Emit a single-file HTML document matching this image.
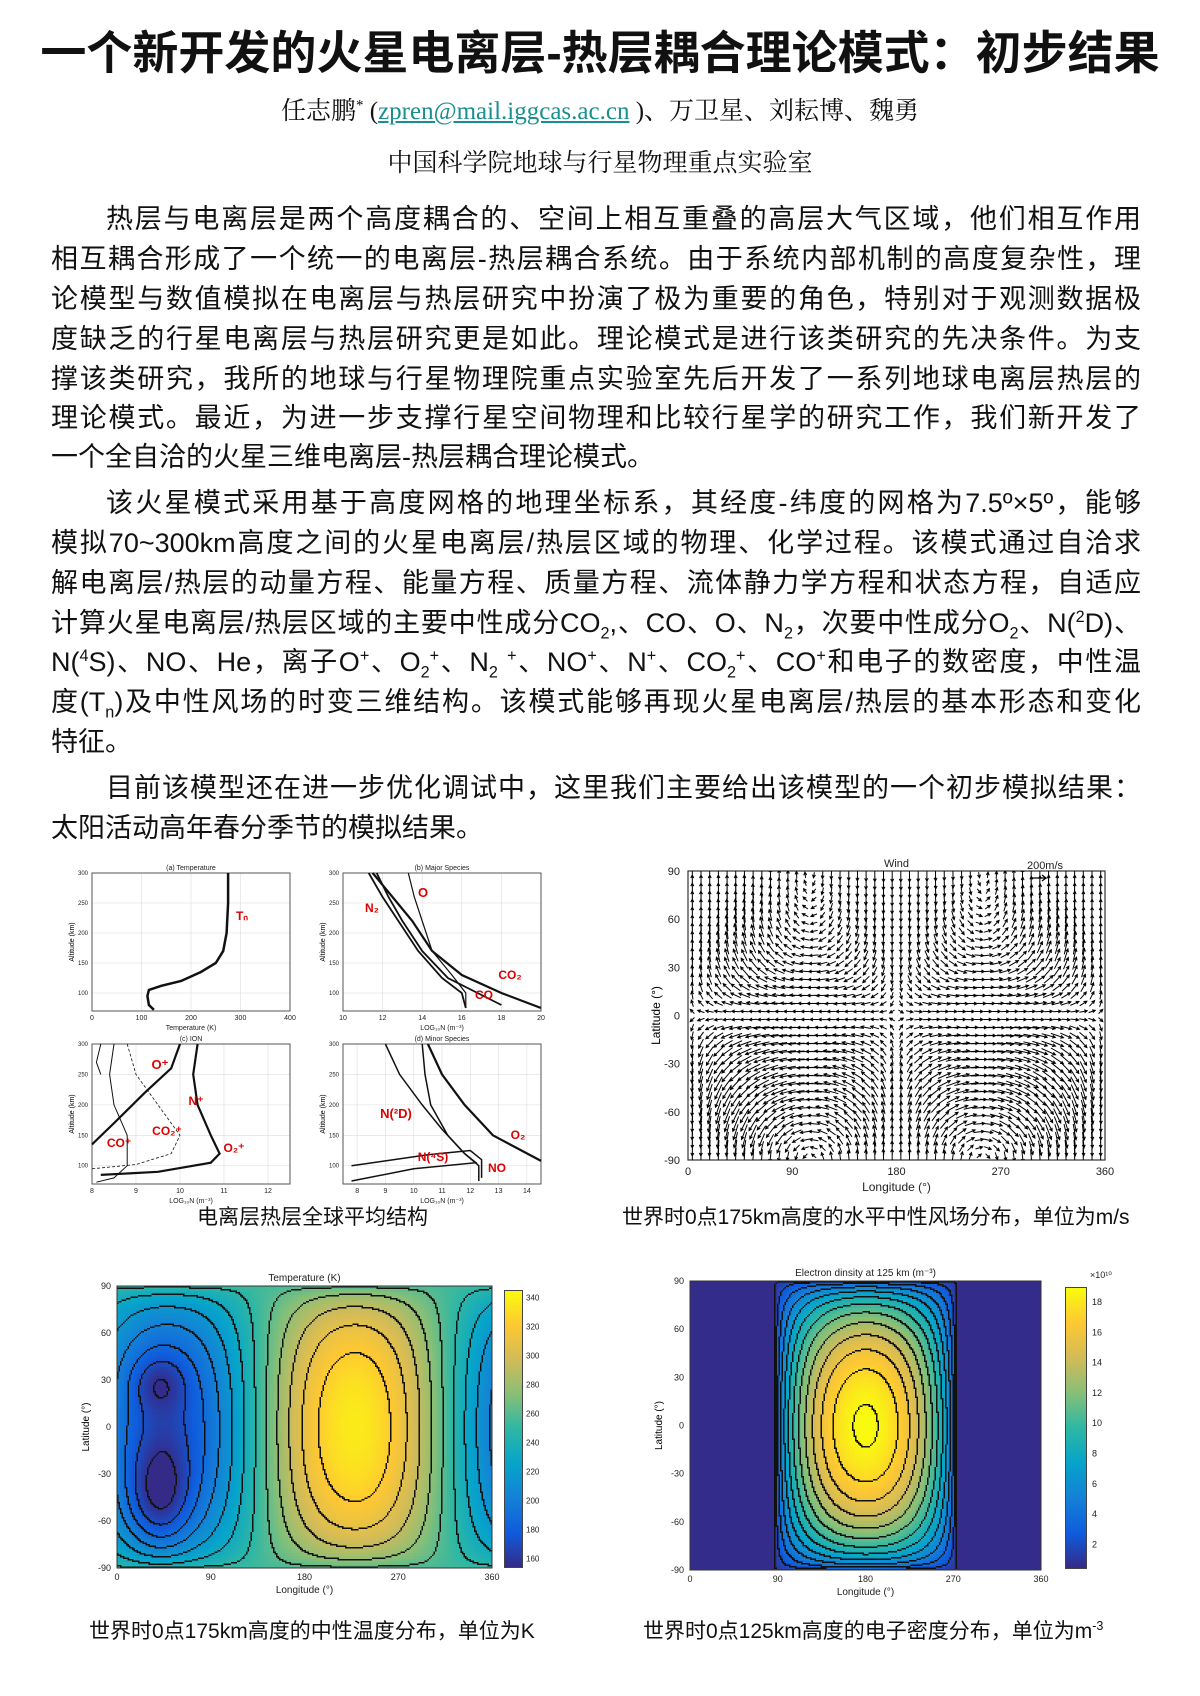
<!DOCTYPE html>
<html><head><meta charset="utf-8">
<style>
html,body{margin:0;padding:0;background:#fff;}
body{width:1200px;height:1696px;position:relative;overflow:hidden;font-family:"Liberation Serif","Noto Sans CJK SC",serif;color:#111;}
.t{position:absolute;white-space:nowrap;}
.title{left:0;width:1200px;top:24px;text-align:center;font-family:"Liberation Sans","Noto Sans CJK SC",sans-serif;font-weight:bold;font-size:46px;line-height:58px;}
.auth{left:0;width:1200px;top:96px;text-align:center;font-family:"Liberation Serif","Noto Serif CJK SC",serif;font-size:25px;line-height:32px;}
.auth a{color:#1a8f8f;text-decoration:underline;}
.aff{left:0;width:1200px;top:148px;text-align:center;font-family:"Liberation Serif","Noto Serif CJK SC",serif;font-size:25px;line-height:32px;}
.ln{position:absolute;left:51px;width:1090px;font-family:"Liberation Sans","Noto Sans CJK SC",sans-serif;font-size:27px;line-height:34px;height:34px;text-align:justify;text-align-last:justify;white-space:nowrap;}
.ln.i{left:106px;width:1035px;}
.ln.e{text-align-last:left;}
sub,sup{font-size:60%;line-height:0;}
.cap{position:absolute;font-family:"Liberation Sans","Noto Sans CJK SC",sans-serif;font-size:21px;line-height:26px;white-space:nowrap;}
svg{position:absolute;left:0;top:0;}
.cb{position:absolute;border:1px solid #444;background:linear-gradient(to top,#352a87,#0f5cdd 12.5%,#1481d6 25%,#06a4ca 37.5%,#2eb7a4 50%,#87bf77 62.5%,#d1bb59 75%,#fec832 87.5%,#f9fb0e);}
</style></head><body>
<div class="t title">一个新开发的火星电离层-热层耦合理论模式：初步结果</div>
<div class="t auth">任志鹏<sup>*</sup> (<a>zpren@mail.iggcas.ac.cn</a> )、万卫星、刘耘博、魏勇</div>
<div class="t aff">中国科学院地球与行星物理重点实验室</div>

<div class="ln i" style="top:202px">热层与电离层是两个高度耦合的、空间上相互重叠的高层大气区域，他们相互作用</div>
<div class="ln" style="top:242px">相互耦合形成了一个统一的电离层-热层耦合系统。由于系统内部机制的高度复杂性，理</div>
<div class="ln" style="top:282px">论模型与数值模拟在电离层与热层研究中扮演了极为重要的角色，特别对于观测数据极</div>
<div class="ln" style="top:322px">度缺乏的行星电离层与热层研究更是如此。理论模式是进行该类研究的先决条件。为支</div>
<div class="ln" style="top:362px">撑该类研究，我所的地球与行星物理院重点实验室先后开发了一系列地球电离层热层的</div>
<div class="ln" style="top:401px">理论模式。最近，为进一步支撑行星空间物理和比较行星学的研究工作，我们新开发了</div>
<div class="ln e" style="top:440px">一个全自洽的火星三维电离层-热层耦合理论模式。</div>

<div class="ln i" style="top:486px">该火星模式采用基于高度网格的地理坐标系，其经度-纬度的网格为7.5º×5º，能够</div>
<div class="ln" style="top:526px">模拟70~300km高度之间的火星电离层/热层区域的物理、化学过程。该模式通过自洽求</div>
<div class="ln" style="top:566px">解电离层/热层的动量方程、能量方程、质量方程、流体静力学方程和状态方程，自适应</div>
<div class="ln" style="top:606px">计算火星电离层/热层区域的主要中性成分CO<sub>2</sub>,、CO、O、N<sub>2</sub>，次要中性成分O<sub>2</sub>、N(<sup>2</sup>D)、</div>
<div class="ln" style="top:645px">N(<sup>4</sup>S)、NO、He，离子O<sup>+</sup>、O<sub>2</sub><sup>+</sup>、N<sub>2</sub> <sup>+</sup>、NO<sup>+</sup>、N<sup>+</sup>、CO<sub>2</sub><sup>+</sup>、CO<sup>+</sup>和电子的数密度，中性温</div>
<div class="ln" style="top:685px">度(T<sub>n</sub>)及中性风场的时变三维结构。该模式能够再现火星电离层/热层的基本形态和变化</div>
<div class="ln e" style="top:725px">特征。</div>

<div class="ln i" style="top:771px">目前该模型还在进一步优化调试中，这里我们主要给出该模型的一个初步模拟结果：</div>
<div class="ln e" style="top:811px">太阳活动高年春分季节的模拟结果。</div>

<div class="cap" style="left:197px;top:1205px">电离层热层全球平均结构</div>
<div class="cap" style="left:622px;top:1205px">世界时0点175km高度的水平中性风场分布，单位为m/s</div>
<div class="cap" style="left:89px;top:1619px">世界时0点175km高度的中性温度分布，单位为K</div>
<div class="cap" style="left:643px;top:1619px">世界时0点125km高度的电子密度分布，单位为m<sup>-3</sup></div>

<div class="cb" style="left:504px;top:1290px;width:17px;height:276px"></div>
<div class="cb" style="left:1065px;top:1287px;width:20px;height:280px"></div>

<svg id="sv" width="1200" height="1696" xmlns="http://www.w3.org/2000/svg" font-family="Liberation Sans, sans-serif"></svg>

<script>
var NS="http://www.w3.org/2000/svg";var sv=document.getElementById('sv');
function el(n,a,txt){var e=document.createElementNS(NS,n);for(var k in a)e.setAttribute(k,a[k]);if(txt!==undefined)e.textContent=txt;sv.appendChild(e);return e;}
function tx(x,y,s,fs,anchor,fill,weight){return el('text',{x:x,y:y,'font-size':fs,'text-anchor':anchor||'middle',fill:fill||'#222','font-weight':weight||'normal'},s);}
var P=[[53,42,135],[15,92,221],[20,129,214],[6,164,202],[46,183,164],[135,191,119],[209,187,89],[254,200,50],[249,251,14]];
function par(t){t=Math.max(0,Math.min(1,t));var f=t*8,i=Math.min(7,Math.floor(f)),u=f-i;var c=[];for(var k=0;k<3;k++)c.push(Math.round(P[i][k]+(P[i+1][k]-P[i][k])*u));return 'rgb('+c.join(',')+')';}
var r=Math.PI/180;
function g(x,a,b,y,c,d){return Math.exp(-Math.pow((x-a)/b,2)-Math.pow((y-c)/d,2));}
function drawMap(X0,Y0,W,H,fn,lo,hi,step,off){
 var s='';var cs=3;
 for(var y=0;y<H;y+=cs)for(var x=0;x<W;x+=cs){var lon=(x+1.5)/W*360,lat=90-(y+1.5)/H*180;
  var w=Math.min(cs,W-x),h=Math.min(cs,H-y);
  s+='<rect x="'+(X0+x)+'" y="'+(Y0+y)+'" width="'+(w+0.4)+'" height="'+(h+0.4)+'" fill="'+par((fn(lon,lat)-lo)/(hi-lo))+'"/>';}
 var fs=1.5,nx=Math.floor(W/fs),ny=Math.floor(H/fs),L=[];
 for(var j=0;j<=ny;j++){L.push([]);for(var i=0;i<=nx;i++){L[j].push(Math.floor((fn(i*fs/W*360,90-j*fs/H*180)+off)/step));}}
 var d='';
 for(var j=0;j<ny;j++)for(var i=0;i<nx;i++){var v=L[j][i];if(L[j][i+1]!==v||L[j+1][i]!==v){d+='M'+(X0+i*fs).toFixed(1)+' '+(Y0+j*fs).toFixed(1)+'h1.5v1.5h-1.5z';}}
 s+='<path d="'+d+'" fill="#111"/>';
 var gg=document.createElementNS(NS,'g');gg.innerHTML=s;sv.appendChild(gg);
}
try{drawMap(117,1286,375,282,function(lon,lat){var f=Math.pow(Math.max(0,1-Math.pow(lat/90,2)),0.6);var t=255+82*Math.cos((lon-228)*r)*f;t-=35*g(lon,40,30,lat,-45,35)+22*g(lon,40,25,lat,28,18);return t;},155,345,15,7.5);}catch(e){}
try{drawMap(690,1281,351,289,function(lon,lat){var d=lon-180;var A=Math.pow(Math.max(0,Math.cos(d*r*0.97)),0.6);var B=Math.pow(Math.max(0,Math.cos(lat*r)),0.5);return 0.6+18.4*A*B;},0.5,19,1.5,0.75);}catch(e){}

function mapAxes(x0,y0,w,h,title){
 el('rect',{x:x0,y:y0,width:w,height:h,fill:'none',stroke:'#333','stroke-width':1});
 tx(x0+w/2,y0-5,title,10);
 [90,60,30,0,-30,-60,-90].forEach(function(v,i){var y=y0+i*h/6;tx(x0-6,y+3,String(v),9,'end');});
 [0,90,180,270,360].forEach(function(v,i){var x=x0+i*w/4;tx(x,y0+h+12,String(v),9);});
 tx(x0+w/2,y0+h+25,'Longitude (°)',10);
 el('text',{x:x0-28,y:y0+h/2,'font-size':10,'text-anchor':'middle',transform:'rotate(-90 '+(x0-28)+' '+(y0+h/2)+')'},'Latitude (°)');
}
try{
mapAxes(117,1286,375,282,'Temperature  (K)');
mapAxes(690,1281,351,289,'Electron dinsity at 125 km  (m⁻³)');
for(var i=0;i<10;i++){tx(526,1566-(160+20*i-155)/190*276+3,String(160+20*i),8,'start');}
for(var i=1;i<=9;i++){tx(1092,1567-(2*i-0.5)/18.5*280+3,String(2*i),9,'start');}
tx(1090,1278,'×10¹⁰',9,'start');
}catch(e){}

try{
var wx=688,wy=871,ww=417,wh=289;
el('rect',{x:wx,y:wy,width:ww,height:wh,fill:'none',stroke:'#333','stroke-width':1.2});
tx(wx+ww/2,wy-4,'Wind',11);tx(1045,wy-2,'200m/s',11);
el('path',{d:'M1032 878h14l-4-3M1046 878l-4 3',stroke:'#000','stroke-width':1.2,fill:'none'});
[90,60,30,0,-30,-60,-90].forEach(function(v,i){tx(wx-8,wy+i*wh/6+4,String(v),11,'end');});
[0,90,180,270,360].forEach(function(v,i){tx(wx+i*ww/4,wy+wh+15,String(v),11);});
tx(wx+ww/2,wy+wh+31,'Longitude (°)',12);
el('text',{x:wx-28,y:wy+wh/2,'font-size':12,'text-anchor':'middle',transform:'rotate(-90 '+(wx-28)+' '+(wy+wh/2)+')'},'Latitude (°)');
var d='';
for(var lon=3.75;lon<360;lon+=7.5){for(var lat=-87.5;lat<=87.5;lat+=5){
 var x=wx+lon/360*ww,y=wy+wh-(lat+90)/180*wh;
 var u=-13*Math.sin(lon*r)*Math.cos(lat*r)-5*Math.sin((lon-180)*r)*Math.sin(2*lat*r);
 var v=15*Math.sin(lat*r)*Math.cos(lon*r)+4*Math.sin(lat*r);
 var L=Math.sqrt(u*u+v*v);if(L<0.3)continue;
 var nl=Math.min(16,5+L*0.8);
 if(Math.abs(lat)<6)nl=Math.min(nl,8);
 u=u/L*nl;v=v/L*nl;
 var x1=x-u/2,y1=y+v/2,x2=x+u/2,y2=y-v/2;
 d+='M'+x1.toFixed(1)+' '+y1.toFixed(1)+'L'+x2.toFixed(1)+' '+y2.toFixed(1);
 var ux=u/nl,uy=-v/nl,hs=3;
 d+='M'+(x2-hs*ux-hs*0.5*uy).toFixed(1)+' '+(y2-hs*uy+hs*0.5*ux).toFixed(1)+'L'+x2.toFixed(1)+' '+y2.toFixed(1)+'L'+(x2-hs*ux+hs*0.5*uy).toFixed(1)+' '+(y2-hs*uy-hs*0.5*ux).toFixed(1);
}}
el('clipPath',{id:'wc'}).innerHTML='<rect x="'+wx+'" y="'+wy+'" width="'+ww+'" height="'+wh+'"/>';
el('path',{d:d,stroke:'#000','stroke-width':1,fill:'none','clip-path':'url(#wc)'});
}catch(e){}

function panel(x0,y0,w,h,xt,xlo,xhi,title,xlab){
 for(var i=0;i<xt.length;i++){var x=x0+(xt[i]-xlo)/(xhi-xlo)*w;el('line',{x1:x,y1:y0,x2:x,y2:y0+h,stroke:'#ddd','stroke-width':0.6});tx(x,y0+h+9,String(xt[i]),7);}
 [100,150,200,250,300].forEach(function(a){var y=y0+h-(a-70)/230*h;el('line',{x1:x0,y1:y,x2:x0+w,y2:y,stroke:'#ddd','stroke-width':0.6});tx(x0-4,y+2,String(a),6,'end');});
 el('rect',{x:x0,y:y0,width:w,height:h,fill:'none',stroke:'#555','stroke-width':1});
 tx(x0+w/2,y0-3,title,7);tx(x0+w/2,y0+h+19,xlab,7);
 el('text',{x:x0-18,y:y0+h/2,'font-size':7,'text-anchor':'middle',transform:'rotate(-90 '+(x0-18)+' '+(y0+h/2)+')'},'Altitude (km)');
 return function(pts,sw,dash){el('polyline',{points:pts.map(function(p){return (x0+(p[0]-xlo)/(xhi-xlo)*w).toFixed(1)+','+(y0+h-(p[1]-70)/230*h).toFixed(1);}).join(' '),fill:'none',stroke:'#111','stroke-width':sw||1.5,'stroke-dasharray':dash||'none'});};
}
try{
var pa=panel(92,873,198,138,[0,100,200,300,400],0,400,'(a) Temperature','Temperature (K)');
pa([[125,72],[115,80],[112,95],[115,105],[140,112],[180,120],[220,135],[250,150],[265,170],[272,200],[275,250],[275,300]],2.5);
var pb=panel(343,873,198,138,[10,12,14,16,18,20],10,20,'(b) Major Species','LOG₁₀N (m⁻³)');
pb([[11.5,300],[12.5,260],[13.5,220],[14.5,170],[16,130],[18,100],[20,75]],2.2);
pb([[11.3,300],[12,260],[12.8,220],[13.8,170],[15,125],[16,100],[16.2,75]],1.8);
pb([[13.3,300],[13.6,260],[14,220],[14.5,170],[15.5,130],[16.2,100],[16.2,75]],1.2);
pb([[11.7,300],[12.3,260],[13,220],[14,170],[15.3,125],[16.8,100],[18,80]],1.8);
var pc=panel(92,1044,198,140,[8,9,10,11,12],8,12.5,'(c) ION','LOG₁₀N (m⁻³)');
pc([[10,300],[9.8,260],[9.2,220],[8.5,170],[8,135]],2.2);
pc([[10.4,300],[10.3,250],[10.4,200],[10.7,150],[10.9,120],[10.7,105],[9.5,90],[8.2,85]],2.2);
pc([[8.8,300],[9,250],[9.5,200],[10,150],[9.8,120],[9,102],[8,95]],0.8,'3,2');
pc([[8.5,300],[8.4,250],[8.5,200],[8.8,150],[8.8,100],[8.5,80],[8.1,73]],1);
pc([[8.2,300],[8.1,270],[8.2,250]],1);
var pd=panel(343,1044,198,140,[8,9,10,11,12,13,14],7.5,14.5,'(d) Minor Species','LOG₁₀N (m⁻³)');
pd([[10.5,300],[11,250],[11.8,200],[12.8,150],[14.5,108]],2.2);
pd([[9,300],[9.5,250],[10.3,200],[11,160],[11.8,120],[12.3,100],[12.3,75]],1.5);
pd([[10.3,300],[10.4,250],[10.6,200],[11.2,150],[11.8,120],[12.2,105],[10,95],[7.8,75]],1.5);
pd([[7.8,100],[9,108],[10.5,118],[12,125],[12.4,110],[12.4,80]],1.5);
var R='#d00';
tx(242,920,'Tₙ',12,'middle',R,'bold');
tx(423,897,'O',13,'middle',R,'bold');tx(372,912,'N₂',12,'middle',R,'bold');
tx(510,979,'CO₂',12,'middle',R,'bold');tx(484,999,'CO',12,'middle',R,'bold');
tx(160,1069,'O⁺',13,'middle',R,'bold');tx(196,1105,'N⁺',12,'middle',R,'bold');
tx(167,1135,'CO₂⁺',12,'middle',R,'bold');tx(119,1147,'CO⁺',12,'middle',R,'bold');tx(234,1152,'O₂⁺',12,'middle',R,'bold');
tx(396,1118,'N(²D)',13,'middle',R,'bold');tx(433,1161,'N(⁴S)',12,'middle',R,'bold');
tx(518,1139,'O₂',12,'middle',R,'bold');tx(497,1172,'NO',12,'middle',R,'bold');
}catch(e){}
</script>
</body></html>
